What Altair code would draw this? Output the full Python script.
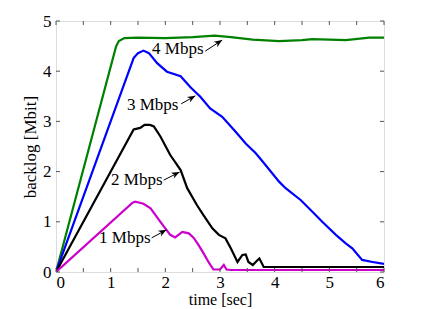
import altair as alt
import pandas as pd
import numpy as np

# ---- data ----
green_t = [0, 1.1, 1.15, 1.25, 1.5, 2.0, 2.5, 2.9, 3.2, 3.6, 4.08, 4.5, 4.69, 5.0, 5.3, 5.73, 6.0]
green_v = [0, 4.5, 4.6, 4.66, 4.67, 4.66, 4.68, 4.71, 4.68, 4.63, 4.60, 4.62, 4.64, 4.63, 4.62, 4.67, 4.67]

blue_t = [0, 1.3, 1.42, 1.5, 1.6, 1.7, 1.85, 2.03, 2.28, 2.46, 2.64, 2.82, 3.04, 3.29, 3.47, 3.65,
          3.78, 4.08, 4.2, 4.48, 4.69, 4.87, 5.12, 5.3, 5.42, 5.6, 5.79, 6.0]
blue_v = [0, 3.9, 4.26, 4.36, 4.41, 4.36, 4.16, 3.99, 3.9, 3.68, 3.49, 3.26, 3.09, 2.79, 2.56, 2.37,
          2.2, 1.8, 1.67, 1.43, 1.2, 1.0, 0.74, 0.57, 0.47, 0.24, 0.2, 0.16]

black_t = [0, 1.42, 1.54, 1.62, 1.72, 1.79, 1.91, 2.09, 2.28, 2.4, 2.58, 2.7, 2.86, 2.98, 3.1, 3.2,
           3.32, 3.41, 3.47, 3.52, 3.6, 3.67, 3.72, 3.8, 4.0, 6.0]
black_v = [0, 2.84, 2.87, 2.93, 2.93, 2.9, 2.7, 2.33, 2.03, 1.67, 1.33, 1.13, 0.87, 0.74, 0.67, 0.47,
           0.2, 0.34, 0.35, 0.2, 0.14, 0.22, 0.27, 0.1, 0.1, 0.1]

magenta_t = [0, 1.4, 1.45, 1.6, 1.73, 1.91, 2.09, 2.18, 2.31, 2.43, 2.52, 2.6, 2.7, 2.8, 2.88,
             3.0, 3.07, 3.12, 3.2, 6.0]
magenta_v = [0, 1.38, 1.40, 1.36, 1.27, 1.0, 0.74, 0.69, 0.8, 0.77, 0.68, 0.55, 0.37, 0.18, 0.05,
             0.05, 0.14, 0.05, 0.04, 0.04]

series_names = ["4 Mbps", "3 Mbps", "2 Mbps", "1 Mbps"]
series_colors = ["#008000", "#0000FF", "#000000", "#CC00CC"]

label_text = ["4 Mbps", "3 Mbps", "2 Mbps", "1 Mbps"]
label_t = [2.70, 2.24, 1.95, 1.73]
label_v = [4.34, 3.23, 1.73, 0.58]
arrow_t1 = [2.73, 2.29, 1.97, 1.75]
arrow_v1 = [4.40, 3.35, 1.83, 0.68]
arrow_t2 = [3.04, 2.55, 2.26, 2.02]
arrow_v2 = [4.62, 3.51, 1.99, 0.84]

x_ticks = [i * 0.5 for i in range(13)]
y_ticks = [0, 1, 2, 3, 4, 5]

# ---- layout ----
W, H = 328, 251
FONT = "Liberation Serif"
FS = 17

rows = []
for name, ts, vs in zip(series_names, [green_t, blue_t, black_t, magenta_t],
                        [green_v, blue_v, black_v, magenta_v]):
    for i, (t, v) in enumerate(zip(ts, vs)):
        rows.append({"series": name, "t": t, "v": v, "idx": i})
lines_df = pd.DataFrame(rows)

xs = alt.Scale(domain=[0, 6], nice=False, zero=False)
ys = alt.Scale(domain=[0, 5], nice=False, zero=False)

lines = alt.Chart(lines_df).mark_line(strokeWidth=2.2, clip=True).encode(
    x=alt.X("t:Q", scale=xs,
            axis=alt.Axis(values=[0, 1, 2, 3, 4, 5, 6], format="d", ticks=False, domain=False,
                          grid=False, labelFont=FONT, labelFontSize=FS, labelColor="black",
                          labelPadding=2, title="time [sec]", titleFont=FONT,
                          titleFontSize=16, titleFontWeight="normal", titleColor="black",
                          titlePadding=1)),
    y=alt.Y("v:Q", scale=ys,
            axis=alt.Axis(values=y_ticks, format="d", ticks=False, domain=False, grid=False,
                          labelFont=FONT, labelFontSize=FS, labelColor="black",
                          labelPadding=5, title="backlog [Mbit]", titleFont=FONT,
                          titleFontSize=FS, titleFontWeight="normal", titleColor="black",
                          titlePadding=3)),
    color=alt.Color("series:N", scale=alt.Scale(domain=series_names, range=series_colors),
                    legend=None),
    order="idx:Q",
)

ann_df = pd.DataFrame({"label": label_text, "lt": label_t, "lv": label_v,
                       "t1": arrow_t1, "v1": arrow_v1, "t2": arrow_t2, "v2": arrow_v2})
pxx = W / 6.0
pxy = H / 5.0
ann_df["ang"] = [(-np.degrees(np.arctan2((b2 - b1) * pxy, (a2 - a1) * pxx))) % 360
                 for a1, b1, a2, b2 in zip(arrow_t1, arrow_v1, arrow_t2, arrow_v2)]

texts = alt.Chart(ann_df).mark_text(align="right", baseline="alphabetic", font=FONT,
                                    fontSize=FS, color="black").encode(
    x=alt.X("lt:Q", scale=xs), y=alt.Y("lv:Q", scale=ys), text="label:N")

shafts = alt.Chart(ann_df).mark_rule(color="black", strokeWidth=1).encode(
    x=alt.X("t1:Q", scale=xs), y=alt.Y("v1:Q", scale=ys), x2="t2:Q", y2="v2:Q")

heads = alt.Chart(ann_df).mark_point(
    shape="M0,0 L-1,-0.4 L-0.7,0 L-1,0.4 Z", filled=True, color="black", opacity=1,
    size=260).encode(
    x=alt.X("t2:Q", scale=xs), y=alt.Y("v2:Q", scale=ys), angle=alt.Angle("ang:Q", scale=None))

xt_df = pd.DataFrame({"t": x_ticks})
yt_df = pd.DataFrame({"v": y_ticks})
TL = 4
xt_bot = alt.Chart(xt_df).mark_rule(color="#555", strokeWidth=1).encode(
    x=alt.X("t:Q", scale=xs), y=alt.value(H), y2=alt.value(H - TL))
xt_top = alt.Chart(xt_df).mark_rule(color="#555", strokeWidth=1).encode(
    x=alt.X("t:Q", scale=xs), y=alt.value(0), y2=alt.value(TL))
yt_left = alt.Chart(yt_df).mark_rule(color="#555", strokeWidth=1).encode(
    y=alt.Y("v:Q", scale=ys), x=alt.value(0), x2=alt.value(TL))
yt_right = alt.Chart(yt_df).mark_rule(color="#555", strokeWidth=1).encode(
    y=alt.Y("v:Q", scale=ys), x=alt.value(W), x2=alt.value(W - TL))

chart = alt.layer(lines, xt_bot, xt_top, yt_left, yt_right, shafts, heads, texts).properties(
    width=W, height=H,
    autosize=alt.AutoSizeParams(type="none"),
    padding={"left": 48, "top": 13, "right": 32, "bottom": 37},
).configure_view(stroke="#555", strokeWidth=1).configure(background="white")

chart.save("out.html", embed_options={"renderer": "svg", "actions": False})
